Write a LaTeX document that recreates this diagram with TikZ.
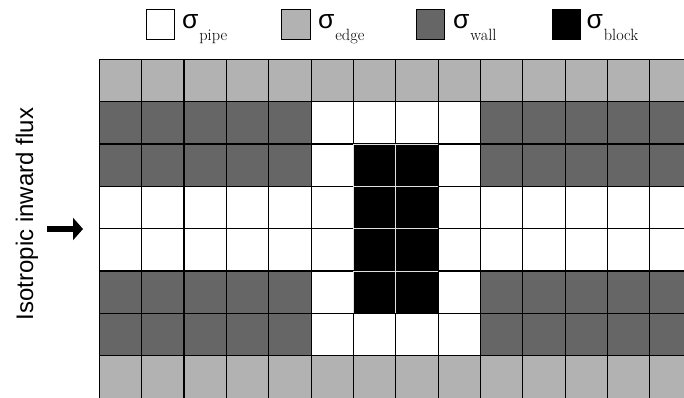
\documentclass[tikz,border=0pt]{standalone}
\usepackage{fontspec}
\newfontfamily\arial{Liberation Sans}
\usetikzlibrary{arrows.meta}
\definecolor{edgegray}{gray}{0.7}
\definecolor{wallgray}{gray}{0.4}
\definecolor{blockline}{gray}{0.88}
\newcommand{\legsig}[1]{{\arial\fontsize{26.5}{30}\selectfont σ}\hspace{1pt}\raisebox{-11.5pt}{\fontsize{16.3}{18}\selectfont #1}}
\begin{document}
\begin{tikzpicture}[x=1pt,y=1pt,
  cell/.style={draw=black,line width=1.1pt,minimum size=42.35pt,inner sep=0pt,outer sep=0pt,anchor=north west},
  cellE/.style={cell,fill=edgegray},
  cellW/.style={cell,fill=wallgray},
  cellP/.style={cell,fill=white},
  cellB/.style={cell,fill=black,draw=blockline,line width=0.9pt},
  legbox/.style={draw=black,line width=0.9pt,minimum width=28.3pt,minimum height=29.3pt,inner sep=0pt},
  leglabel/.style={anchor=base west,inner sep=0pt,outer sep=0pt},
  fluxarrow/.style={line width=6pt,-{Triangle[length=10pt,width=22pt]}}]
\useasboundingbox (0,0) rectangle (684,398);
\clip (0,0) rectangle (684,398);
% grid
\foreach \rowtypes [count=\r from 0] in {
  {E,E,E,E,E,E,E,E,E,E,E,E,E,E},
  {W,W,W,W,W,P,P,P,P,W,W,W,W,W},
  {W,W,W,W,W,P,B,B,P,W,W,W,W,W},
  {P,P,P,P,P,P,B,B,P,P,P,P,P,P},
  {P,P,P,P,P,P,B,B,P,P,P,P,P,P},
  {W,W,W,W,W,P,B,B,P,W,W,W,W,W},
  {W,W,W,W,W,P,P,P,P,W,W,W,W,W},
  {E,E,E,E,E,E,E,E,E,E,E,E,E,E}} {
  \foreach \t [count=\c from 0] in \rowtypes {
    \node[cell\t] (c-\r-\c) at ({99.3+42.35*\c},{338.7-42.35*\r}) {};
  }
}
% legend
\node[legbox,fill=white]    (lb1) at (160.2,373.4) {};
\node[legbox,fill=edgegray] (lb2) at (295.9,373.4) {};
\node[legbox,fill=wallgray] (lb3) at (430.2,373.4) {};
\node[legbox,fill=black]    (lb4) at (566.5,373.4) {};
\node[leglabel] (lt1) at (182,369) {\legsig{pipe}};
\node[leglabel] (lt2) at (318,369) {\legsig{edge}};
\node[leglabel] (lt3) at (453,369) {\legsig{wall}};
\node[leglabel] (lt4) at (586.5,369) {\legsig{block}};
% flux label and arrow
\node[rotate=90,anchor=base,inner sep=0pt] (flux) at (33,184) {\arial\fontsize{24}{28}\selectfont Isotropic inward flux};
\coordinate (a1) at (47,169);
\coordinate (a2) at (83,169);
\draw[fluxarrow] (a1) -- (a2);
\end{tikzpicture}
\end{document}
